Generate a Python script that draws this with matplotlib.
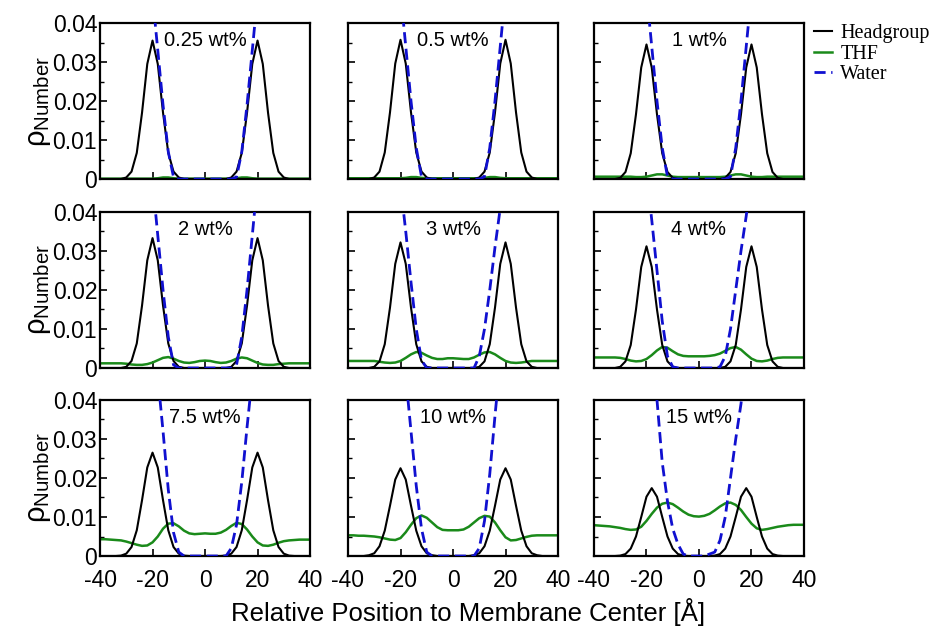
import matplotlib
matplotlib.use("Agg")
import matplotlib.pyplot as plt
from matplotlib.ticker import FixedLocator, FixedFormatter, NullFormatter
from matplotlib.lines import Line2D

plt.rcParams['font.family'] = ['Liberation Sans', 'DejaVu Sans']
plt.rcParams['mathtext.fontset'] = 'custom'
plt.rcParams['mathtext.rm'] = 'Liberation Sans'
plt.rcParams['mathtext.it'] = 'Liberation Sans:italic'
plt.rcParams['axes.unicode_minus'] = False

# positions relative to membrane center (A)
x = [-40, -38, -36, -34, -32, -30, -28, -26, -24, -22, -20, -18, -16, -14, -12, -10, -8, -6, -4, -2, 0,
     2, 4, 6, 8, 10, 12, 14, 16, 18, 20, 22, 24, 26, 28, 30, 32, 34, 36, 38, 40]

labels = ["0.25 wt%", "0.5 wt%", "1 wt%", "2 wt%", "3 wt%", "4 wt%", "7.5 wt%", "10 wt%", "15 wt%"]

yticks = [0, 0.01, 0.02, 0.03, 0.04]
ytick_labels = ['0', '0.01', '0.02', '0.03', '0.04']
xticks = [-40, -20, 0, 20, 40]
xtick_labels = ['-40', '-20', '0', '20', '40']

# headgroup number density
head_025 = [0, 0, 0, 0, 0, .0004, .0019, .0067, .0170, .0295, .0355, .0295, .0170, .0067, .0019, .0004,
            0, 0, 0, 0, 0, 0, 0, 0, 0,
            .0004, .0019, .0067, .0170, .0295, .0355, .0295, .0170, .0067, .0019, .0004, 0, 0, 0, 0, 0]
head_05 = [0, 0, 0, 0, 0, .0004, .0019, .0068, .0171, .0296, .0357, .0296, .0171, .0068, .0019, .0004,
           0, 0, 0, 0, 0, 0, 0, 0, 0,
           .0004, .0019, .0068, .0171, .0296, .0357, .0296, .0171, .0068, .0019, .0004, 0, 0, 0, 0, 0]
head_1 = [0, 0, 0, 0, 0, .0003, .0018, .0066, .0166, .0286, .0345, .0286, .0166, .0066, .0018, .0003,
          0, 0, 0, 0, 0, 0, 0, 0, 0,
          .0003, .0018, .0066, .0166, .0286, .0345, .0286, .0166, .0066, .0018, .0003, 0, 0, 0, 0, 0]
head_2 = [0, 0, 0, 0, 0, .0003, .0018, .0063, .0160, .0276, .0333, .0276, .0160, .0063, .0018, .0003,
          0, 0, 0, 0, 0, 0, 0, 0, 0,
          .0003, .0018, .0063, .0160, .0276, .0333, .0276, .0160, .0063, .0018, .0003, 0, 0, 0, 0, 0]
head_3 = [0, 0, 0, 0, 0, .0003, .0017, .0061, .0155, .0267, .0322, .0267, .0155, .0061, .0017, .0003,
          0, 0, 0, 0, 0, 0, 0, 0, 0,
          .0003, .0017, .0061, .0155, .0267, .0322, .0267, .0155, .0061, .0017, .0003, 0, 0, 0, 0, 0]
head_4 = [0, 0, 0, 0, 0, .0003, .0017, .0059, .0150, .0259, .0312, .0259, .0150, .0059, .0017, .0003,
          0, 0, 0, 0, 0, 0, 0, 0, 0,
          .0003, .0017, .0059, .0150, .0259, .0312, .0259, .0150, .0059, .0017, .0003, 0, 0, 0, 0, 0]
head_75 = [0, 0, 0, 0, .0001, .0006, .0023, .0066, .0143, .0227, .0265, .0227, .0143, .0066, .0023, .0006,
           .0001, 0, 0, 0, 0, 0, 0, 0, .0001,
           .0006, .0023, .0066, .0143, .0227, .0265, .0227, .0143, .0066, .0023, .0006, .0001, 0, 0, 0, 0]
head_10 = [0, 0, 0, 0, .0002, .0007, .0025, .0065, .0129, .0196, .0225, .0196, .0129, .0065, .0025, .0007,
           .0002, 0, 0, 0, 0, 0, 0, 0, .0002,
           .0007, .0025, .0065, .0129, .0196, .0225, .0196, .0129, .0065, .0025, .0007, .0002, 0, 0, 0, 0]
head_15 = [0, 0, 0, 0, 0, .0001, .0005, .0019, .0050, .0100, .0152, .0174, .0152, .0100, .0050, .0019,
           .0005, .0001, 0, 0, 0, 0, 0, .0001, .0005,
           .0019, .0050, .0100, .0152, .0174, .0152, .0100, .0050, .0019, .0005, .0001, 0, 0, 0, 0, 0]

# THF number density
thf_025 = [.0001] * 11 + [.0002, .0004, .0004, .0002] + [.0001] * 11 + [.0002, .0004, .0004, .0002] + [.0001] * 11
thf_05 = [.0002] * 11 + [.0003, .0005, .0005, .0003] + [.0002] * 11 + [.0003, .0005, .0005, .0003] + [.0002] * 11
thf_1 = [.0006, .0006, .0006, .0006, .0006, .0006, .0006, .0006, .0005, .0005, .0006, .0009, .0012, .0012,
         .0009, .0006, .0005, .0005, .0005, .0005, .0005, .0005, .0005, .0005, .0005, .0006, .0009, .0012,
         .0012, .0009, .0006, .0005, .0005, .0006, .0006, .0006, .0006, .0006, .0006, .0006, .0006]
thf_2 = [.0012, .0012, .0012, .0012, .0012, .0011, .0009, .0008, .0008, .0010, .0014, .0020, .0026, .0028,
         .0024, .0018, .0014, .0013, .0015, .0018, .0019, .0018, .0015, .0013, .0014, .0018, .0024, .0027,
         .0025, .0019, .0013, .0009, .0008, .0008, .0010, .0011, .0012, .0012, .0012, .0012, .0012]
thf_3 = [.0018, .0018, .0018, .0018, .0018, .0018, .0016, .0014, .0013, .0014, .0018, .0026, .0035, .0041,
         .0039, .0032, .0026, .0023, .0023, .0025, .0025, .0024, .0023, .0023, .0027, .0034, .0040, .0041,
         .0035, .0026, .0018, .0014, .0013, .0014, .0016, .0018, .0018, .0018, .0018, .0018, .0018]
thf_4 = [.0027, .0027, .0027, .0027, .0027, .0026, .0023, .0019, .0017, .0018, .0023, .0033, .0045, .0054,
         .0052, .0043, .0035, .0031, .0030, .0030, .0030, .0030, .0031, .0033, .0037, .0044, .0051, .0054,
         .0047, .0035, .0024, .0018, .0017, .0019, .0023, .0026, .0027, .0027, .0027, .0027, .0027]
thf_75 = [.0043, .0043, .0042, .0041, .0040, .0037, .0033, .0029, .0026, .0027, .0035, .0050, .0070, .0083,
          .0084, .0076, .0065, .0058, .0056, .0057, .0058, .0057, .0057, .0060, .0067, .0077, .0085, .0082,
          .0068, .0050, .0035, .0027, .0026, .0029, .0034, .0038, .0040, .0041, .0042, .0042, .0042]
thf_10 = [.0053, .0053, .0052, .0052, .0051, .0050, .0048, .0045, .0042, .0041, .0046, .0061, .0080, .0097,
          .0104, .0098, .0086, .0074, .0067, .0066, .0066, .0066, .0068, .0075, .0086, .0097, .0103, .0101,
          .0086, .0066, .0048, .0040, .0041, .0045, .0049, .0052, .0053, .0053, .0053, .0053, .0053]
thf_15 = [.0079, .0078, .0077, .0076, .0074, .0072, .0069, .0067, .0068, .0075, .0090, .0108, .0124, .0134,
          .0137, .0133, .0124, .0114, .0106, .0102, .0101, .0103, .0108, .0117, .0127, .0135, .0137, .0131,
          .0118, .0100, .0083, .0071, .0067, .0069, .0072, .0075, .0077, .0079, .0080, .0080, .0080]

# water number density (goes off the top of each panel)
water_025 = [.1, .1, .1, .1, .1, .1, .095, .085, .072, .060, .047, .033, .019, .007, .0005,
             0, 0, 0, 0, 0, 0, 0, 0, 0, 0, 0,
             .0005, .007, .019, .033, .047, .060, .072, .085, .095, .1, .1, .1, .1, .1, .1]
water_05 = [.1, .1, .1, .1, .1, .1, .095, .085, .073, .061, .048, .034, .020, .008, .0006,
            0, 0, 0, 0, 0, 0, 0, 0, 0, 0, 0,
            .0006, .008, .020, .034, .048, .061, .073, .085, .095, .1, .1, .1, .1, .1, .1]
water_1 = [.1, .1, .1, .1, .1, .1, .095, .085, .073, .061, .048, .034, .020, .008, .0006,
           0, 0, 0, 0, 0, 0, 0, 0, 0, 0, 0,
           .0006, .008, .020, .034, .048, .061, .073, .085, .095, .1, .1, .1, .1, .1, .1]
water_2 = [.1, .1, .1, .1, .1, .1, .095, .085, .073, .061, .048, .034, .020, .008, .0008,
           0, 0, 0, 0, 0, 0, 0, 0, 0, 0, 0,
           .0008, .008, .020, .034, .048, .061, .073, .085, .095, .1, .1, .1, .1, .1, .1]
water_3 = [.1, .1, .1, .1, .1, .1, .095, .085, .072, .060, .047, .035, .022, .010, .002,
           0, 0, 0, 0, 0, 0, 0, 0, 0, 0,
           .003, .010, .020, .031, .041, .052, .063, .074, .085, .095, .1, .1, .1, .1, .1, .1]
water_4 = [.1, .1, .1, .1, .1, .1, .095, .085, .075, .063, .050, .038, .025, .012, .003, .0003,
           0, 0, 0, 0, 0, 0, 0, 0,
           .0003, .003, .010, .020, .030, .039, .050, .062, .073, .085, .095, .1, .1, .1, .1, .1, .1]
water_75 = [.1, .1, .1, .1, .1, .1, .1, .09, .08, .07, .058, .046, .032, .017, .006, .001,
            0, 0, 0, 0, 0, 0, 0, 0, 0,
            .002, .008, .019, .033, .046, .058, .07, .08, .09, .1, .1, .1, .1, .1, .1, .1]
water_10 = [.1, .1, .1, .1, .1, .1, .1, .09, .08, .07, .058, .046, .032, .018, .007, .001,
            0, 0, 0, 0, 0, 0, 0, 0, 0,
            .002, .009, .021, .036, .05, .062, .073, .083, .092, .1, .1, .1, .1, .1, .1, .1]
water_15 = [.1, .1, .1, .1, .1, .1, .1, .09, .083, .076, .066, .055, .040, .024, .014, .007, .003, .0005,
            0, 0, 0, 0,
            .0005, .001, .004, .010, .020, .030, .039, .05, .062, .073, .083, .092, .1, .1, .1, .1, .1, .1, .1]

heads = [head_025, head_05, head_1, head_2, head_3, head_4, head_75, head_10, head_15]
thfs = [thf_025, thf_05, thf_1, thf_2, thf_3, thf_4, thf_75, thf_10, thf_15]
waters = [water_025, water_05, water_1, water_2, water_3, water_4, water_75, water_10, water_15]

fig = plt.figure(figsize=(9.49, 6.41), dpi=100)

lefts = [0.1054, 0.3667, 0.6259]
bottoms = [0.7207, 0.4259, 0.1326]
w, h = 0.2213, 0.2434

for k in range(9):
    r, c = divmod(k, 3)
    ax = fig.add_axes([lefts[c], bottoms[r], w, h])
    ax.plot(x, heads[k], color='black', lw=1.5, zorder=3)
    ax.plot(x, thfs[k], color='#1a8a1a', lw=1.8, zorder=2)
    ax.plot(x, waters[k], color='#1010d0', lw=2.0, ls=(0, (4, 2)), zorder=4)
    ax.set_xlim(-40, 40)
    ax.set_ylim(0, 0.04)
    ax.xaxis.set_major_locator(FixedLocator(xticks))
    ax.yaxis.set_major_locator(FixedLocator(yticks))
    ax.yaxis.set_minor_locator(FixedLocator([0.005, 0.015, 0.025, 0.035]))
    ax.tick_params(which='both', direction='in', top=False, right=False, labelsize=16.5)
    ax.tick_params(axis='y', pad=2)
    ax.tick_params(axis='x', pad=9)
    ax.tick_params(which='major', length=5, width=1.2)
    ax.tick_params(which='minor', length=3, width=1.0)
    for s in ax.spines.values():
        s.set_linewidth(1.6)
    ax.text(0.5, 0.89, labels[k], transform=ax.transAxes, ha='center', va='center', fontsize=14.5)
    if c == 0:
        ax.yaxis.set_major_formatter(FixedFormatter(ytick_labels))
        ax.set_ylabel(r'$\mathrm{\rho}_{\mathrm{Number}}$', fontsize=21, labelpad=0)
    else:
        ax.yaxis.set_major_formatter(NullFormatter())
    if r == 2:
        ax.xaxis.set_major_formatter(FixedFormatter(xtick_labels))
    else:
        ax.xaxis.set_major_formatter(NullFormatter())

handles = [Line2D([], [], color='black', lw=1.5),
           Line2D([], [], color='#1a8a1a', lw=1.8),
           Line2D([], [], color='#1010d0', lw=2.0, ls=(0, (4, 2)))]
fig.legend(handles, ['Headgroup', 'THF', 'Water'], loc='upper left', bbox_to_anchor=(0.858, 0.962),
           frameon=False, prop={'family': 'Liberation Serif', 'size': 14.5}, handlelength=0.9,
           handletextpad=0.4, labelspacing=0.05, borderaxespad=0, borderpad=0)

fig.text(0.493, 0.045, 'Relative Position to Membrane Center [Å]', ha='center', va='center', fontsize=18.5)

fig.savefig('out.png', dpi=100)
